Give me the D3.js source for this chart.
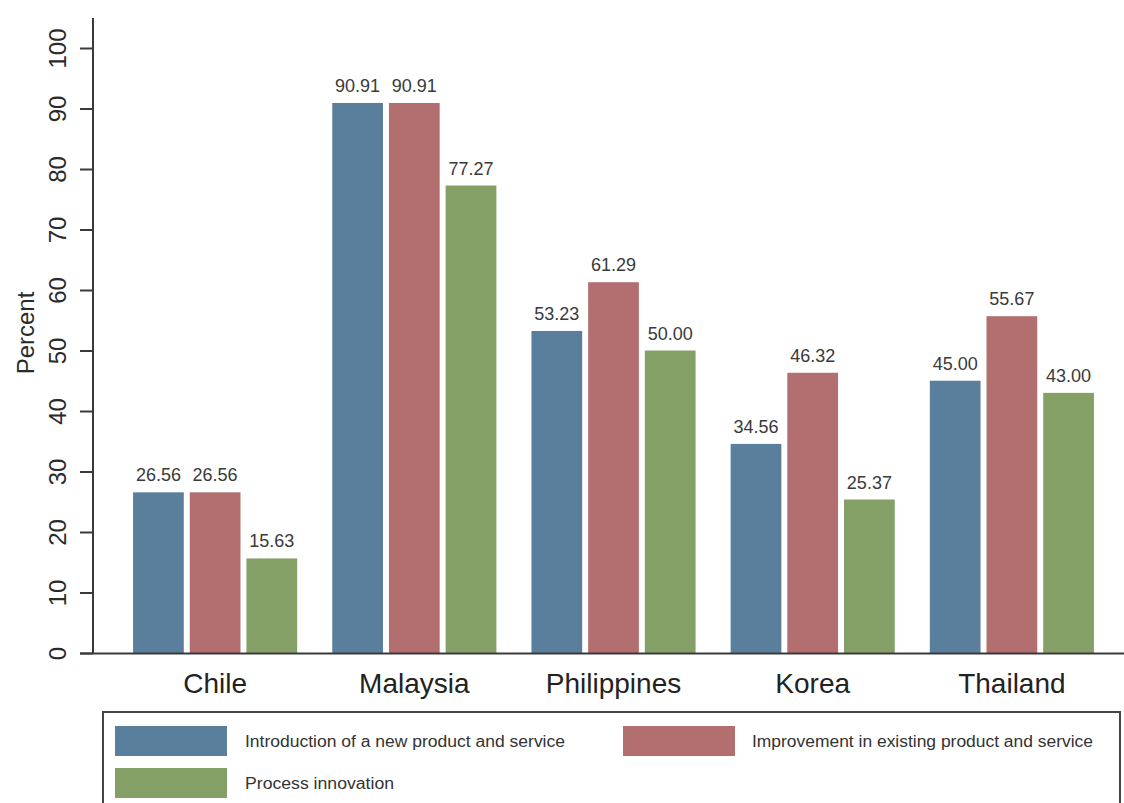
<!DOCTYPE html>
<html>
<head>
<meta charset="utf-8">
<script src="https://cdn.jsdelivr.net/npm/d3@7"></script>
<style>
  html, body { margin: 0; padding: 0; background: #fff; }
  svg { display: block; }
  text { font-family: "Liberation Sans", Arial, sans-serif; }
</style>
</head>
<body>
<script>
const categories = ["Chile", "Malaysia", "Philippines", "Korea", "Thailand"];
const seriesNames = [
  "Introduction of a new product and service",
  "Improvement in existing product and service",
  "Process innovation"
];
const newProduct = [26.56, 90.91, 53.23, 34.56, 45.00];
const improvement = [26.56, 90.91, 61.29, 46.32, 55.67];
const processInnovation = [15.63, 77.27, 50.00, 25.37, 43.00];
const yTicks = [0, 10, 20, 30, 40, 50, 60, 70, 80, 90, 100];
const colors = ["#5a7f9c", "#b36f70", "#85a067"];

const seriesValues = [newProduct, improvement, processInnovation];
const W = 1124, H = 803;
const svg = d3.select("body").append("svg").attr("width", W).attr("height", H);

const y = d3.scaleLinear().domain([0, 100]).range([653, 48]);
const x0 = d3.scaleBand().domain(categories).range([98, 1129]).paddingInner(0.176).paddingOuter(0.176);
const x1 = d3.scaleBand().domain(d3.range(3)).range([0, x0.bandwidth()]).paddingInner(0.105);

const axisColor = "#3a3a3a";

// bars
const groups = svg.append("g").selectAll("g")
  .data(categories).join("g")
  .attr("transform", d => `translate(${x0(d)},0)`);

groups.selectAll("rect")
  .data((c, ci) => seriesValues.map((s, si) => ({ si, v: s[ci] })))
  .join("rect")
  .attr("x", d => x1(d.si))
  .attr("y", d => y(d.v))
  .attr("width", x1.bandwidth())
  .attr("height", d => y(0) - y(d.v))
  .attr("fill", d => colors[d.si]);

groups.selectAll("text.val")
  .data((c, ci) => seriesValues.map((s, si) => ({ si, v: s[ci] })))
  .join("text")
  .attr("class", "val")
  .attr("x", d => x1(d.si) + x1.bandwidth() / 2)
  .attr("y", d => y(d.v) - 11)
  .attr("text-anchor", "middle")
  .attr("font-size", 18)
  .attr("fill", "#3a3a3a")
  .text(d => d.v.toFixed(2));

// y axis
const yAxis = d3.axisLeft(y).tickValues(yTicks).tickSize(13).tickPadding(0).tickFormat(d3.format("d"));
const yg = svg.append("g").attr("transform", "translate(93,0)").call(yAxis);
yg.select(".domain").remove();
yg.selectAll(".tick line").attr("stroke", axisColor).attr("stroke-width", 2);
yg.selectAll(".tick text")
  .attr("x", null).attr("dy", null)
  .attr("transform", "translate(-27,0) rotate(-90)")
  .attr("text-anchor", "middle")
  .attr("font-size", 24)
  .attr("fill", "#2a2a2a");
svg.append("line").attr("x1", 93).attr("x2", 93).attr("y1", 18).attr("y2", 654)
  .attr("stroke", axisColor).attr("stroke-width", 2);

// x axis
const xAxis = d3.axisBottom(x0).tickSize(0).tickPadding(0);
const xg = svg.append("g").attr("transform", "translate(0,653)").call(xAxis);
xg.select(".domain").remove();
xg.selectAll(".tick text")
  .attr("y", 40).attr("dy", null)
  .attr("font-size", 28)
  .attr("fill", "#222");
svg.append("line").attr("x1", 80).attr("x2", 1124).attr("y1", 653.5).attr("y2", 653.5)
  .attr("stroke", axisColor).attr("stroke-width", 2);

// y label
svg.append("text")
  .attr("transform", "translate(34,333) rotate(-90)")
  .attr("text-anchor", "middle")
  .attr("font-size", 24)
  .attr("fill", "#2a2a2a")
  .text("Percent");

// legend
const lg = svg.append("g");
lg.append("rect").attr("x", 103).attr("y", 712).attr("width", 1017).attr("height", 110)
  .attr("fill", "#fff").attr("stroke", "#444").attr("stroke-width", 2);
const legendItems = [
  { i: 0, sx: 115, sy: 726, tx: 245, tl: 320 },
  { i: 1, sx: 623, sy: 726, tx: 752, tl: 341 },
  { i: 2, sx: 115, sy: 768, tx: 245, tl: 149 }
];
legendItems.forEach(d => {
  lg.append("rect").attr("x", d.sx).attr("y", d.sy).attr("width", 112).attr("height", 30).attr("fill", colors[d.i]);
  lg.append("text").attr("x", d.tx).attr("y", d.sy + 21)
    .attr("font-size", 16).attr("fill", "#333")
    .attr("textLength", d.tl).attr("lengthAdjust", "spacingAndGlyphs")
    .text(seriesNames[d.i]);
});
</script>
</body>
</html>
